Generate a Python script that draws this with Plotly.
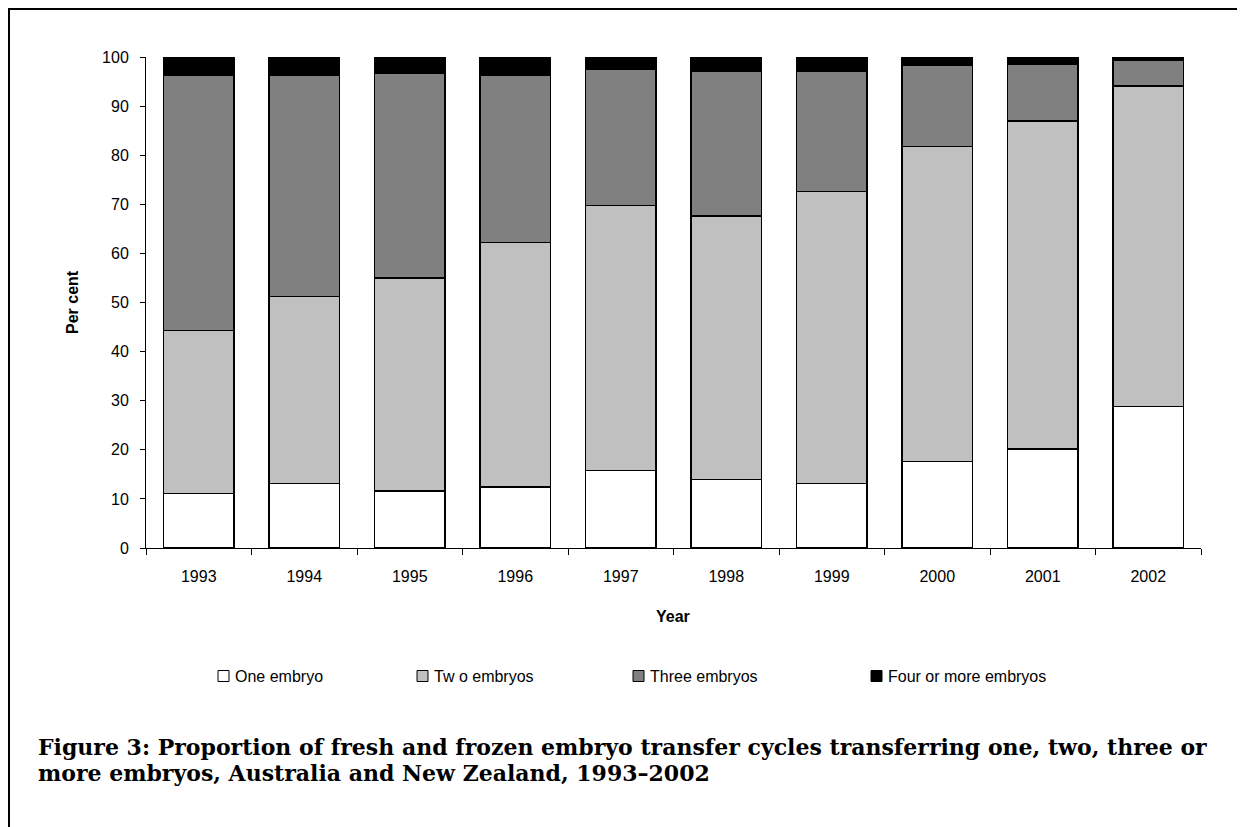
import plotly.graph_objects as go

years = ["1993", "1994", "1995", "1996", "1997", "1998", "1999", "2000", "2001", "2002"]
one_embryo = [11.1, 13.1, 11.6, 12.4, 15.8, 13.9, 13.1, 17.6, 20.2, 28.8]
two_embryos = [33.2, 38.1, 43.4, 49.8, 54.0, 53.7, 59.5, 64.2, 66.8, 65.3]
three_embryos = [52.0, 45.1, 41.6, 34.1, 27.6, 29.4, 24.4, 16.5, 11.6, 5.2]
four_plus = [3.7, 3.7, 3.4, 3.7, 2.6, 3.0, 3.0, 1.7, 1.4, 0.7]

series_names = ["One embryo", "Tw o embryos", "Three embryos", "Four or more embryos"]
series_colors = ["#FFFFFF", "#C0C0C0", "#808080", "#000000"]
series_values = [one_embryo, two_embryos, three_embryos, four_plus]

y_ticks = [0, 10, 20, 30, 40, 50, 60, 70, 80, 90, 100]

# page offset of the plot div (default body margin)
OFF = 8
W, H = 1237, 819
# plot area in page pixels
PL, PR, PT, PB = 146, 1201, 57, 548
L, R, T, B = PL - OFF, PR - OFF, PT - OFF, PB - OFF

def px_x(x):
    return (x - PL) / (PR - PL)

def px_y(y):
    return (PB - y) / (PB - PT)

fig = go.Figure()
for name, col, vals in zip(series_names, series_colors, series_values):
    fig.add_trace(go.Bar(
        x=years, y=vals, name=name,
        marker=dict(color=col, line=dict(color="#000000", width=1.4)),
        showlegend=False,
    ))

fig.update_layout(
    width=W, height=H,
    barmode="stack", bargap=0.335,
    paper_bgcolor="white", plot_bgcolor="white",
    margin=dict(l=L, r=W - R, t=T, b=H - B),
    font=dict(family="Liberation Sans, Arial, sans-serif", size=16, color="black"),
)
fig.update_xaxes(
    showline=True, linecolor="#000000", linewidth=1,
    ticks="outside", ticklen=6, tickcolor="#000000", tickson="boundaries",
    showgrid=False, tickfont=dict(size=16), ticklabelstandoff=14,
)
fig.update_yaxes(
    range=[0, 100], tickvals=y_ticks,
    showline=True, linecolor="#000000", linewidth=1,
    ticks="outside", ticklen=5, tickcolor="#000000",
    showgrid=False, zeroline=False, tickfont=dict(size=16), ticklabelstandoff=8,
)

ann = []
ann.append(dict(text="<b>Per cent</b>", x=px_x(72), y=px_y(302), xref="paper", yref="paper",
                textangle=-90, showarrow=False, font=dict(size=16), xanchor="center", yanchor="middle"))
ann.append(dict(text="<b>Year</b>", x=px_x(673), y=px_y(616), xref="paper", yref="paper",
                showarrow=False, font=dict(size=16), xanchor="center", yanchor="middle"))

shapes = []
legend_x = [218, 417, 633, 871]
legend_y = 676
for nm, col, lx in zip(series_names, series_colors, legend_x):
    shapes.append(dict(type="rect", xref="paper", yref="paper",
                       x0=px_x(lx), x1=px_x(lx + 11), y0=px_y(legend_y + 5.5), y1=px_y(legend_y - 5.5),
                       fillcolor=col, line=dict(color="#000000", width=1)))
    ann.append(dict(text=nm, x=px_x(lx + 15), y=px_y(legend_y), xref="paper", yref="paper",
                    showarrow=False, font=dict(size=16), xanchor="left", yanchor="middle"))

caption_lines = [
    "Figure 3: Proportion of fresh and frozen embryo transfer cycles transferring one, two, three or",
    "more embryos, Australia and New Zealand, 1993\u20132002",
]
for line, cy in zip(caption_lines, [747, 773]):
    ann.append(dict(
        text="<b>" + line + "</b>",
        x=px_x(36), y=px_y(cy), xref="paper", yref="paper", showarrow=False,
        xanchor="left", yanchor="middle", align="left",
        font=dict(family="DejaVu Serif, serif", size=22, color="black"),
    ))

# outer frame (top and left edges)
shapes.append(dict(type="line", xref="paper", yref="paper", x0=px_x(OFF + 0.5), x1=px_x(W + OFF + 5),
                   y0=px_y(OFF + 1), y1=px_y(OFF + 1), line=dict(color="black", width=2)))
shapes.append(dict(type="line", xref="paper", yref="paper", x0=px_x(OFF + 1), x1=px_x(OFF + 1),
                   y0=px_y(OFF), y1=px_y(H + OFF + 5), line=dict(color="black", width=2)))

fig.update_layout(annotations=ann, shapes=shapes)
fig.write_html("out.html")
